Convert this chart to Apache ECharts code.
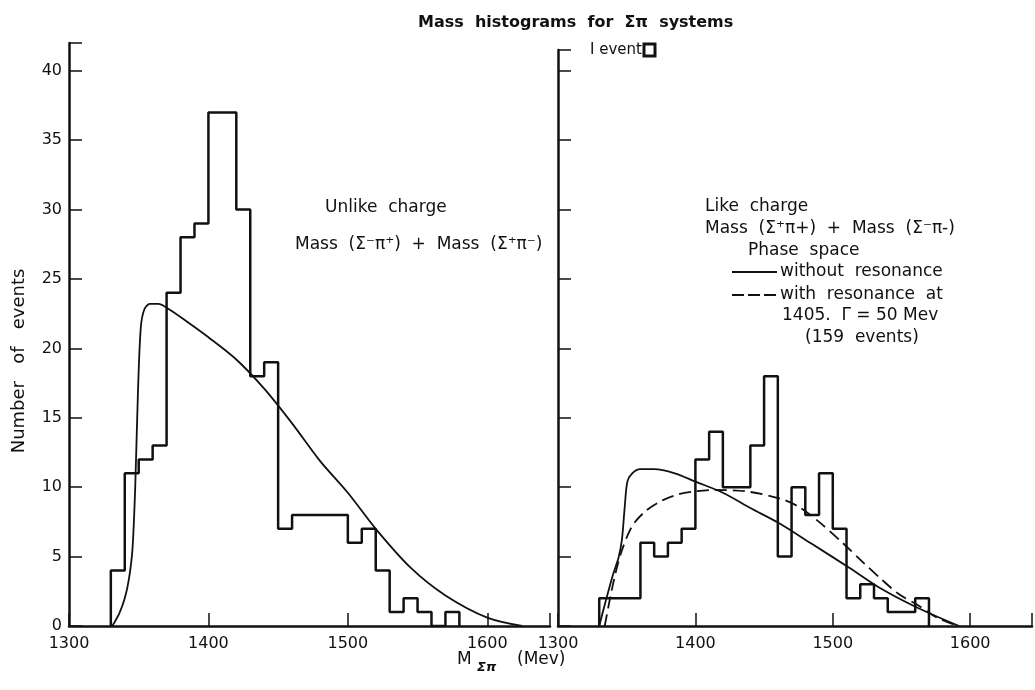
<!DOCTYPE html>
<html>
<head>
<meta charset="utf-8">
<script src="https://cdn.jsdelivr.net/npm/echarts@6/dist/echarts.min.js"></script>
<style>
html,body{margin:0;padding:0;background:#fff;}
#chart{width:1035px;height:690px;}
</style>
</head>
<body>
<div id="chart"></div>
<script>
// ---- data ----
const xTicks = [1300, 1400, 1500, 1600];
const yTicks = [0, 5, 10, 15, 20, 25, 30, 35, 40];

// Unlike charge histogram (10 MeV bins)
const unlikeEdges = [1330,1340,1350,1360,1370,1380,1390,1400,1410,1420,1430,1440,1450,1460,1470,1480,1490,1500,1510,1520,1530,1540,1550,1560,1570,1580];
const unlikeCounts = [4,11,12,13,24,28,29,37,37,30,18,19,7,8,8,8,8,6,7,4,1,2,1,0,1];

// Like charge histogram (10 MeV bins, 159 events)
const likeEdges = [1330,1340,1350,1360,1370,1380,1390,1400,1410,1420,1430,1440,1450,1460,1470,1480,1490,1500,1510,1520,1530,1540,1550,1560,1570];
const likeCounts = [2,2,2,6,5,6,7,12,14,10,10,13,18,5,10,8,11,7,2,3,2,1,1,2];

// Phase space curve, unlike charge
const unlikePSx = [1331,1336,1340,1343,1345.5,1347.5,1349.5,1351.5,1354,1358,1364,1372,1385,1400,1420,1440,1460,1480,1500,1520,1545,1570,1600,1625];
const unlikePSy = [0,0.9,2.0,3.4,5.5,10,17,21.5,22.8,23.2,23.2,22.8,21.9,20.8,19.2,17.1,14.6,11.9,9.6,7.0,4.2,2.2,0.6,0];

// Phase space without resonance, like charge
const likePSx = [1330,1335,1340,1344,1346.5,1348.5,1350.5,1354,1360,1370,1385,1400,1420,1440,1461,1485,1512,1535,1562,1592];
const likePSy = [0,1.9,3.7,4.9,6.2,8.5,10.4,11.0,11.3,11.3,11.0,10.4,9.6,8.5,7.4,5.9,4.2,2.7,1.3,0];

// Phase space with resonance at 1405, like charge
const likeResx = [1334,1340,1346,1354,1364,1376,1388,1400,1415,1437,1461,1475,1490,1507,1523,1535,1548,1562,1576,1591];
const likeResy = [0,3,5.3,7.2,8.3,9.05,9.5,9.7,9.8,9.7,9.2,8.6,7.5,6.0,4.5,3.4,2.3,1.5,0.6,0];

// ---- helpers ----
function stepPoints(edges, counts) {
  const pts = [[edges[0], 0]];
  for (let i = 0; i < counts.length; i++) pts.push([edges[i + 1], counts[i]]);
  pts.push([edges[edges.length - 1], 0]);
  return pts;
}
function zip(xs, ys) { return xs.map((x, i) => [x, ys[i]]); }

const FONT = '"DejaVu Sans", sans-serif';
const BLACK = '#111';

const chart = echarts.init(document.getElementById('chart'), null, {renderer: 'canvas'});

function xAxisCfg(gi) {
  return {
    type: 'value', gridIndex: gi, min: 1300, max: 1645, interval: 100,
    axisLine: {show: true, onZero: false, lineStyle: {color: BLACK, width: 2.5}},
    axisTick: {show: true, inside: true, length: 13, lineStyle: {color: BLACK, width: 1.5}},
    axisLabel: {show: true, color: BLACK, fontFamily: FONT, fontSize: 16, margin: 10,
      formatter: v => (xTicks.indexOf(v) >= 0 ? String(v) : '')},
    splitLine: {show: false}
  };
}
function yAxisCfg(gi, max, labels) {
  return {
    type: 'value', gridIndex: gi, min: 0, max: max, interval: 5,
    axisLine: {show: true, lineStyle: {color: BLACK, width: 2.5}},
    axisTick: {show: true, inside: true, length: 13, lineStyle: {color: BLACK, width: 1.5}},
    axisLabel: {show: labels, color: BLACK, fontFamily: FONT, fontSize: 16, margin: 7,
      formatter: v => (yTicks.indexOf(v) >= 0 ? String(v) : '')},
    splitLine: {show: false}
  };
}

const txt = (x, y, text, size, extra) => Object.assign({
  type: 'text', x: x, y: y, silent: true,
  style: Object.assign({text: text, fill: BLACK, font: (size || 16) + 'px ' + FONT, align: 'left', verticalAlign: 'middle'}, (extra && extra.style) || {})
}, extra && extra.el || {});

const option = {
  backgroundColor: '#fff',
  animation: false,
  grid: [
    {left: 69, right: 485, top: 43, bottom: 64, containLabel: false},
    {left: 558, right: 0, top: 50, bottom: 64, containLabel: false}
  ],
  xAxis: [xAxisCfg(0), xAxisCfg(1)],
  yAxis: [yAxisCfg(0, 42, true), yAxisCfg(1, 41.5, false)],
  series: [
    {type: 'line', xAxisIndex: 0, yAxisIndex: 0, step: 'start', showSymbol: false,
     data: stepPoints(unlikeEdges, unlikeCounts), lineStyle: {color: BLACK, width: 2.5}},
    {type: 'line', xAxisIndex: 0, yAxisIndex: 0, smooth: 0.3, showSymbol: false,
     data: zip(unlikePSx, unlikePSy), lineStyle: {color: BLACK, width: 1.8}},
    {type: 'line', xAxisIndex: 1, yAxisIndex: 1, step: 'start', showSymbol: false,
     data: stepPoints(likeEdges, likeCounts), lineStyle: {color: BLACK, width: 2.5}},
    {type: 'line', xAxisIndex: 1, yAxisIndex: 1, smooth: 0.3, showSymbol: false,
     data: zip(likePSx, likePSy), lineStyle: {color: BLACK, width: 1.8}},
    {type: 'line', xAxisIndex: 1, yAxisIndex: 1, smooth: 0.3, showSymbol: false,
     data: zip(likeResx, likeResy), lineStyle: {color: BLACK, width: 1.8, type: [12, 6]}}
  ],
  graphic: [
    txt(418, 23, 'Mass  histograms  for  Σπ  systems', 16, {style: {font: 'bold 16px ' + FONT}}),
    txt(590, 50, 'I event', 15),
    {type: 'rect', shape: {x: 644, y: 44, width: 11, height: 12}, style: {fill: '#fff', stroke: BLACK, lineWidth: 3}, silent: true},
    txt(325, 208, 'Unlike  charge', 17),
    txt(295, 245, 'Mass  (Σ⁻π⁺)  +  Mass  (Σ⁺π⁻)', 17),
    txt(705, 207, 'Like  charge', 17),
    txt(705, 229, 'Mass  (Σ⁺π+)  +  Mass  (Σ⁻π-)', 17),
    txt(748, 251, 'Phase  space', 17),
    {type: 'line', shape: {x1: 732, y1: 272, x2: 777, y2: 272}, style: {stroke: BLACK, lineWidth: 2}, silent: true},
    txt(780, 272, 'without  resonance', 17),
    {type: 'line', shape: {x1: 732, y1: 295, x2: 777, y2: 295}, style: {stroke: BLACK, lineWidth: 2, lineDash: [12, 4]}, silent: true},
    txt(780, 295, 'with  resonance  at', 17),
    txt(782, 316, '1405.  Γ = 50 Mev', 17),
    txt(805, 338, '(159  events)', 17),
    txt(19, 361, 'Number   of   events', 18, {style: {align: 'center'}, el: {rotation: Math.PI / 2}}),
    txt(457, 660, 'M', 17),
    txt(477, 668, 'Σπ', 13, {style: {font: 'bold italic 13px ' + FONT}}),
    txt(517, 660, '(Mev)', 17)
  ]
};
chart.setOption(option);
</script>
</body>
</html>
